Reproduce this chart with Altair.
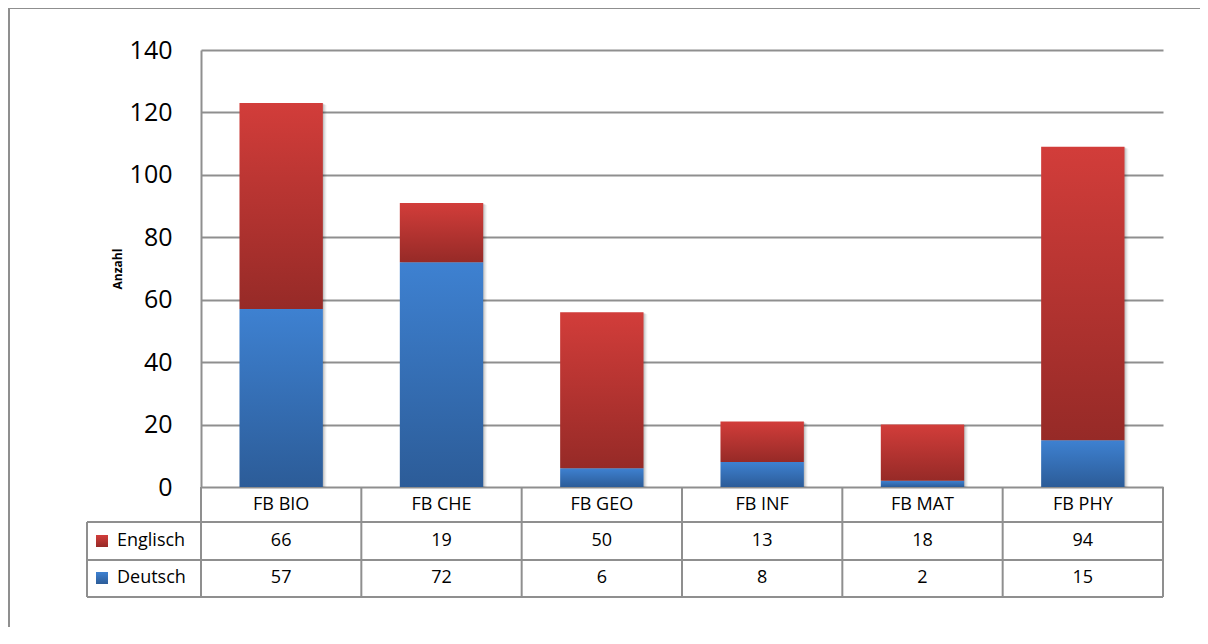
import altair as alt
import pandas as pd

categories = ["FB BIO", "FB CHE", "FB GEO", "FB INF", "FB MAT", "FB PHY"]
englisch = [66, 19, 50, 13, 18, 94]
deutsch = [57, 72, 6, 8, 2, 15]
series = ["Englisch", "Deutsch"]
y_ticks = [0, 20, 40, 60, 80, 100, 120, 140]

df = pd.DataFrame({"cat": categories, "Englisch": englisch, "Deutsch": deutsch})
df["total"] = df["Englisch"] + df["Deutsch"]
df["zero"] = 0

W, H = 962, 437
FONT = "Open Sans"
LINE = "#8f8f8f"
LW = 2

blue_grad = alt.LinearGradient(
    gradient="linear", x1=0, x2=0, y1=0, y2=1,
    stops=[alt.GradientStop(color="#3e81d1", offset=0),
           alt.GradientStop(color="#2c5c98", offset=1)])
red_grad = alt.LinearGradient(
    gradient="linear", x1=0, x2=0, y1=0, y2=1,
    stops=[alt.GradientStop(color="#d23d3a", offset=0),
           alt.GradientStop(color="#962a27", offset=1)])
grads = {"Englisch": red_grad, "Deutsch": blue_grad}

band = alt.Scale(paddingInner=0.48, paddingOuter=0.24)
xenc = alt.X("cat:N", sort=categories, axis=None, scale=band)
xcen = alt.X("cat:N", sort=categories, axis=None, bandPosition=0.5, scale=band)
yscale = alt.Scale(domain=[0, 140], nice=False)

base = alt.Chart(df)

layers = []

# soft shadow behind bars
for off, op in [(1, 0.10), (2, 0.07), (3, 0.05), (4, 0.03)]:
    layers.append(base.mark_bar(color="#000000", opacity=op, xOffset=off, yOffset=off / 2).encode(
        x=xenc, y=alt.Y("total:Q", scale=yscale), y2=alt.Y2("zero:Q")))

bars_de = base.mark_bar(color=blue_grad).encode(
    x=xenc,
    y=alt.Y("Deutsch:Q", scale=yscale,
            axis=alt.Axis(values=y_ticks, grid=True, gridColor=LINE, gridWidth=LW,
                          domainColor=LINE, domainWidth=LW, ticks=False,
                          labelFontSize=25, labelFont=FONT, labelColor="#000000",
                          labelPadding=29, title="Anzahl", titleFont=FONT,
                          titleFontSize=12, titleFontWeight="bold", titleColor="#000000",
                          titleAngle=270, titleX=-84, titleY=H / 2,
                          titleAlign="center", titleBaseline="middle")),
    y2=alt.Y2("zero:Q"),
)

bars_en = base.mark_bar(color=red_grad).encode(
    x=xenc,
    y=alt.Y("total:Q", scale=yscale),
    y2=alt.Y2("Deutsch:Q"),
)
layers += [bars_de, bars_en]

one = alt.Chart(pd.DataFrame({"a": [0]}))

# outer frame
layers.append(one.mark_rule(color=LINE, strokeWidth=LW).encode(
    x=alt.value(-192), x2=alt.value(W + 37), y=alt.value(-42)))
layers.append(one.mark_rule(color=LINE, strokeWidth=LW).encode(
    x=alt.value(-192), y=alt.value(-42), y2=alt.value(H + 140)))

# table lines
row_edges = [437, 472, 510, 547]
layers.append(one.mark_rule(color=LINE, strokeWidth=LW).encode(
    x=alt.value(0), y=alt.value(row_edges[0]), y2=alt.value(row_edges[-1])))
for ye in row_edges[1:]:
    layers.append(one.mark_rule(color=LINE, strokeWidth=LW).encode(
        x=alt.value(-114), x2=alt.value(W), y=alt.value(ye)))
layers.append(one.mark_rule(color=LINE, strokeWidth=LW).encode(
    x=alt.value(-114), y=alt.value(row_edges[1]), y2=alt.value(row_edges[-1])))
step = W / len(categories)
layers.append(base.mark_rule(color=LINE, strokeWidth=LW, xOffset=step / 2).encode(
    x=xcen, y=alt.value(row_edges[0]), y2=alt.value(row_edges[-1])))

# table text
text_props = dict(font=FONT, fontSize=18, color="#000000", align="center", baseline="middle")
layers.append(base.mark_text(**text_props).encode(
    x=xcen, y=alt.value(455), text="cat:N"))
row_centers = {"Englisch": 491, "Deutsch": 528}
for s in series:
    yc = row_centers[s]
    layers.append(base.mark_text(**text_props).encode(
        x=xcen, y=alt.value(yc), text=f"{s}:Q"))
    layers.append(one.mark_rect(color=grads[s]).encode(
        x=alt.value(-105), x2=alt.value(-93), y=alt.value(yc - 6), y2=alt.value(yc + 6)))
    layers.append(one.mark_text(font=FONT, fontSize=18, color="#000000", align="left",
                                baseline="middle").encode(
        x=alt.value(-84), y=alt.value(yc), text=alt.value(s)))

chart = alt.layer(*layers).properties(
    width=W, height=H,
    background="white",
    autosize=alt.AutoSizeParams(type="none"),
    padding={"left": 193, "top": 42, "right": 37, "bottom": 140},
).configure_view(stroke=None)

chart.save("out.html", embed_options={"renderer": "svg", "actions": False})
